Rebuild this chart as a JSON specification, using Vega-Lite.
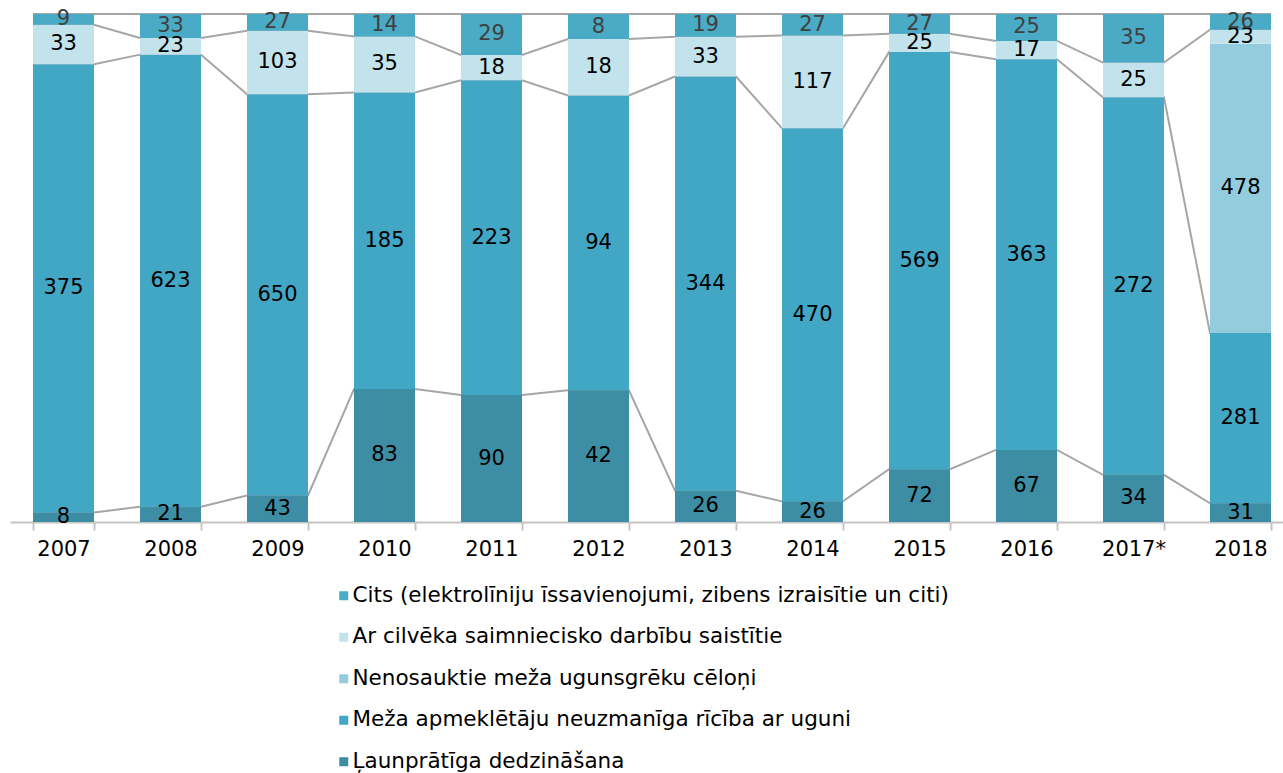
{
  "$schema": "https://vega.github.io/schema/vega-lite/v6.json",
  "width": 1273,
  "height": 508,
  "autosize": {"type": "none"},
  "padding": {"left": 10, "top": 14, "right": 0, "bottom": 251},
  "config": {"font": "DejaVu Sans", "view": {"stroke": null}},
  "data": {"values": [
    {"year": "2007", "cause": "Ļaunprātīga dedzināšana", "value": 8},
    {"year": "2007", "cause": "Meža apmeklētāju neuzmanīga rīcība ar uguni", "value": 375},
    {"year": "2007", "cause": "Ar cilvēka saimniecisko darbību saistītie", "value": 33},
    {"year": "2007", "cause": "Cits (elektrolīniju īssavienojumi, zibens izraisītie un citi)", "value": 9},
    {"year": "2008", "cause": "Ļaunprātīga dedzināšana", "value": 21},
    {"year": "2008", "cause": "Meža apmeklētāju neuzmanīga rīcība ar uguni", "value": 623},
    {"year": "2008", "cause": "Ar cilvēka saimniecisko darbību saistītie", "value": 23},
    {"year": "2008", "cause": "Cits (elektrolīniju īssavienojumi, zibens izraisītie un citi)", "value": 33},
    {"year": "2009", "cause": "Ļaunprātīga dedzināšana", "value": 43},
    {"year": "2009", "cause": "Meža apmeklētāju neuzmanīga rīcība ar uguni", "value": 650},
    {"year": "2009", "cause": "Ar cilvēka saimniecisko darbību saistītie", "value": 103},
    {"year": "2009", "cause": "Cits (elektrolīniju īssavienojumi, zibens izraisītie un citi)", "value": 27},
    {"year": "2010", "cause": "Ļaunprātīga dedzināšana", "value": 83},
    {"year": "2010", "cause": "Meža apmeklētāju neuzmanīga rīcība ar uguni", "value": 185},
    {"year": "2010", "cause": "Ar cilvēka saimniecisko darbību saistītie", "value": 35},
    {"year": "2010", "cause": "Cits (elektrolīniju īssavienojumi, zibens izraisītie un citi)", "value": 14},
    {"year": "2011", "cause": "Ļaunprātīga dedzināšana", "value": 90},
    {"year": "2011", "cause": "Meža apmeklētāju neuzmanīga rīcība ar uguni", "value": 223},
    {"year": "2011", "cause": "Ar cilvēka saimniecisko darbību saistītie", "value": 18},
    {"year": "2011", "cause": "Cits (elektrolīniju īssavienojumi, zibens izraisītie un citi)", "value": 29},
    {"year": "2012", "cause": "Ļaunprātīga dedzināšana", "value": 42},
    {"year": "2012", "cause": "Meža apmeklētāju neuzmanīga rīcība ar uguni", "value": 94},
    {"year": "2012", "cause": "Ar cilvēka saimniecisko darbību saistītie", "value": 18},
    {"year": "2012", "cause": "Cits (elektrolīniju īssavienojumi, zibens izraisītie un citi)", "value": 8},
    {"year": "2013", "cause": "Ļaunprātīga dedzināšana", "value": 26},
    {"year": "2013", "cause": "Meža apmeklētāju neuzmanīga rīcība ar uguni", "value": 344},
    {"year": "2013", "cause": "Ar cilvēka saimniecisko darbību saistītie", "value": 33},
    {"year": "2013", "cause": "Cits (elektrolīniju īssavienojumi, zibens izraisītie un citi)", "value": 19},
    {"year": "2014", "cause": "Ļaunprātīga dedzināšana", "value": 26},
    {"year": "2014", "cause": "Meža apmeklētāju neuzmanīga rīcība ar uguni", "value": 470},
    {"year": "2014", "cause": "Ar cilvēka saimniecisko darbību saistītie", "value": 117},
    {"year": "2014", "cause": "Cits (elektrolīniju īssavienojumi, zibens izraisītie un citi)", "value": 27},
    {"year": "2015", "cause": "Ļaunprātīga dedzināšana", "value": 72},
    {"year": "2015", "cause": "Meža apmeklētāju neuzmanīga rīcība ar uguni", "value": 569},
    {"year": "2015", "cause": "Ar cilvēka saimniecisko darbību saistītie", "value": 25},
    {"year": "2015", "cause": "Cits (elektrolīniju īssavienojumi, zibens izraisītie un citi)", "value": 27},
    {"year": "2016", "cause": "Ļaunprātīga dedzināšana", "value": 67},
    {"year": "2016", "cause": "Meža apmeklētāju neuzmanīga rīcība ar uguni", "value": 363},
    {"year": "2016", "cause": "Ar cilvēka saimniecisko darbību saistītie", "value": 17},
    {"year": "2016", "cause": "Cits (elektrolīniju īssavienojumi, zibens izraisītie un citi)", "value": 25},
    {"year": "2017*", "cause": "Ļaunprātīga dedzināšana", "value": 34},
    {"year": "2017*", "cause": "Meža apmeklētāju neuzmanīga rīcība ar uguni", "value": 272},
    {"year": "2017*", "cause": "Ar cilvēka saimniecisko darbību saistītie", "value": 25},
    {"year": "2017*", "cause": "Cits (elektrolīniju īssavienojumi, zibens izraisītie un citi)", "value": 35},
    {"year": "2018", "cause": "Ļaunprātīga dedzināšana", "value": 31},
    {"year": "2018", "cause": "Meža apmeklētāju neuzmanīga rīcība ar uguni", "value": 281},
    {"year": "2018", "cause": "Nenosauktie meža ugunsgrēku cēloņi", "value": 478},
    {"year": "2018", "cause": "Ar cilvēka saimniecisko darbību saistītie", "value": 23},
    {"year": "2018", "cause": "Cits (elektrolīniju īssavienojumi, zibens izraisītie un citi)", "value": 26}
  ]},
  "transform": [
    {"calculate": "indexof(['Ļaunprātīga dedzināšana','Meža apmeklētāju neuzmanīga rīcība ar uguni','Nenosauktie meža ugunsgrēku cēloņi','Ar cilvēka saimniecisko darbību saistītie','Cits (elektrolīniju īssavienojumi, zibens izraisītie un citi)'], datum.cause)", "as": "ord"},
    {"stack": "value", "groupby": ["year"], "sort": [{"field": "ord", "order": "ascending"}], "offset": "normalize", "as": ["y0", "y1"]}
  ],
  "resolve": {"scale": {"x": "independent"}},
  "layer": [
    {
      "transform": [
        {"filter": "datum.ord != 2"},
        {"calculate": "toNumber(slice(datum.year, 0, 4)) - 2007 - 0.285", "as": "xl"},
        {"calculate": "toNumber(slice(datum.year, 0, 4)) - 2007 + 0.285", "as": "xr"},
        {"fold": ["xl", "xr"], "as": ["side", "xpos"]}
      ],
      "mark": {"type": "line", "color": "#A6A6A6", "strokeWidth": 2},
      "encoding": {
        "x": {"field": "xpos", "type": "quantitative", "scale": {"domain": [-0.5, 11.5], "range": [0, 1284], "nice": false, "zero": false}, "axis": null},
        "y": {"field": "y1", "type": "quantitative", "scale": {"domain": [0, 1], "nice": false}, "axis": null},
        "detail": {"field": "cause", "type": "nominal"}
      }
    },
    {
      "layer": [
        {
          "mark": {"type": "bar"},
          "encoding": {
            "x": {
              "field": "year", "type": "nominal",
              "scale": {"range": [0, 1284], "paddingInner": 0.43, "paddingOuter": 0.215},
              "axis": {"title": null, "labelAngle": 0, "labelFontSize": 21, "labelColor": "#000000", "domainColor": "#C4C4C4", "domainWidth": 2, "tickColor": "#C4C4C4", "tickWidth": 2, "tickSize": 8, "tickBand": "extent", "labelPadding": 8}
            },
            "y": {"field": "y0", "type": "quantitative", "scale": {"domain": [0, 1], "nice": false}, "axis": null},
            "y2": {"field": "y1"},
            "color": {
              "field": "cause", "type": "nominal",
              "scale": {
                "domain": ["Cits (elektrolīniju īssavienojumi, zibens izraisītie un citi)", "Ar cilvēka saimniecisko darbību saistītie", "Nenosauktie meža ugunsgrēku cēloņi", "Meža apmeklētāju neuzmanīga rīcība ar uguni", "Ļaunprātīga dedzināšana"],
                "range": ["#4AABC6", "#C3E3EC", "#93CDDD", "#42A7C5", "#3D8EA5"]
              },
              "legend": {"title": null, "orient": "none", "legendX": 323, "legendY": 571, "direction": "vertical", "symbolType": "square", "symbolSize": 81, "symbolStrokeWidth": 0, "labelFontSize": 21.5, "labelColor": "#000000", "rowPadding": 18.5, "labelOffset": -2, "labelLimit": 1000}
            }
          }
        },
        {
          "transform": [{"calculate": "(datum.y0 + datum.y1) / 2", "as": "mid"}],
          "mark": {"type": "text", "fontSize": 21, "baseline": "middle", "align": "center"},
          "encoding": {
            "x": {"field": "year", "type": "nominal"},
            "y": {"field": "mid", "type": "quantitative"},
            "text": {"field": "value", "type": "quantitative"},
            "color": {"condition": {"test": "datum.ord == 4", "value": "#404040"}, "value": "#000000"}
          }
        }
      ]
    }
  ]
}
